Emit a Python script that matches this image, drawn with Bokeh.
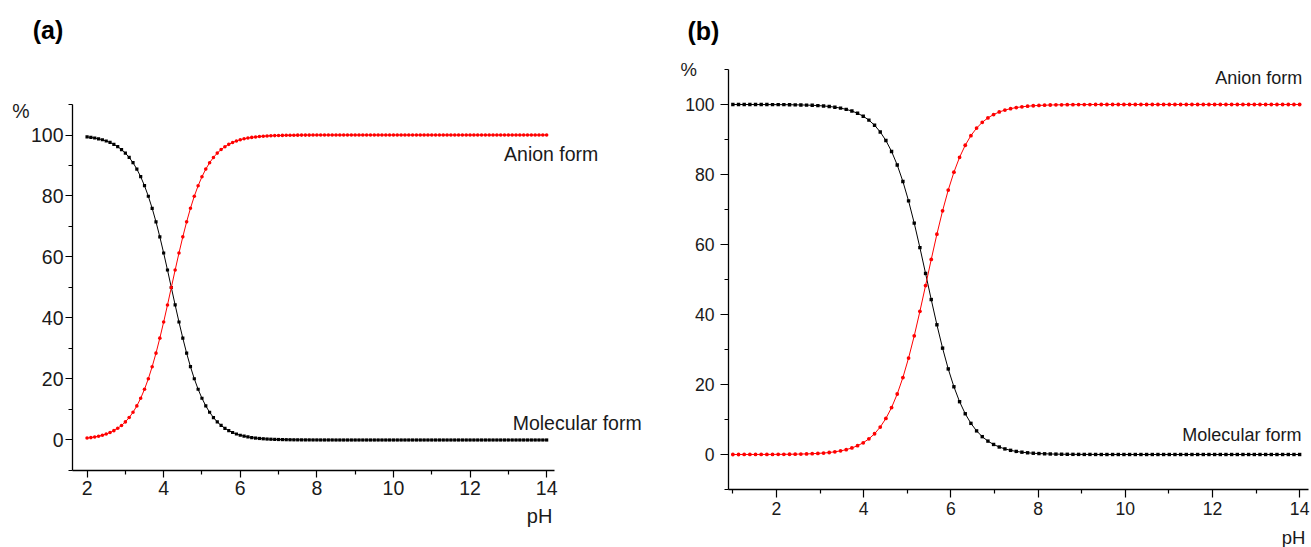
from bokeh.plotting import figure
from bokeh.models import Range1d, FixedTicker, Label
from bokeh.layouts import row
from bokeh.embed import file_html
from bokeh.resources import INLINE

# ---------------- data: panel (a) ----------------
ph_a = [
    2.0, 2.1, 2.2, 2.3, 2.4, 2.5, 2.6, 2.7, 2.8, 2.9,
    3.0, 3.1, 3.2, 3.3, 3.4, 3.5, 3.6, 3.7, 3.8, 3.9,
    4.0, 4.1, 4.2, 4.3, 4.4, 4.5, 4.6, 4.7, 4.8, 4.9,
    5.0, 5.1, 5.2, 5.3, 5.4, 5.5, 5.6, 5.7, 5.8, 5.9,
    6.0, 6.1, 6.2, 6.3, 6.4, 6.5, 6.6, 6.7, 6.8, 6.9,
    7.0, 7.1, 7.2, 7.3, 7.4, 7.5, 7.6, 7.7, 7.8, 7.9,
    8.0, 8.1, 8.2, 8.3, 8.4, 8.5, 8.6, 8.7, 8.8, 8.9,
    9.0, 9.1, 9.2, 9.3, 9.4, 9.5, 9.6, 9.7, 9.8, 9.9,
    10.0, 10.1, 10.2, 10.3, 10.4, 10.5, 10.6, 10.7, 10.8, 10.9,
    11.0, 11.1, 11.2, 11.3, 11.4, 11.5, 11.6, 11.7, 11.8, 11.9,
    12.0, 12.1, 12.2, 12.3, 12.4, 12.5, 12.6, 12.7, 12.8, 12.9,
    13.0, 13.1, 13.2, 13.3, 13.4, 13.5, 13.6, 13.7, 13.8, 13.9,
    14.0,
]
anion_a = [
    0.63, 0.79, 0.99, 1.24, 1.56, 1.96, 2.45, 3.07, 3.83, 4.77,
    5.93, 7.36, 9.09, 11.18, 13.68, 16.63, 20.08, 24.03, 28.47, 33.39,
    38.69, 44.27, 50.00, 55.73, 61.31, 66.61, 71.53, 75.97, 79.92, 83.37,
    86.32, 88.82, 90.91, 92.64, 94.07, 95.23, 96.17, 96.94, 97.55, 98.04,
    98.44, 98.76, 99.01, 99.21, 99.37, 99.50, 99.60, 99.69, 99.75, 99.80,
    99.84, 99.87, 99.90, 99.92, 99.94, 99.95, 99.96, 99.97, 99.97, 99.98,
    99.98, 99.99, 99.99, 99.99, 99.99, 100.0, 100.0, 100.0, 100.0, 100.0,
    100.0, 100.0, 100.0, 100.0, 100.0, 100.0, 100.0, 100.0, 100.0, 100.0,
    100.0, 100.0, 100.0, 100.0, 100.0, 100.0, 100.0, 100.0, 100.0, 100.0,
    100.0, 100.0, 100.0, 100.0, 100.0, 100.0, 100.0, 100.0, 100.0, 100.0,
    100.0, 100.0, 100.0, 100.0, 100.0, 100.0, 100.0, 100.0, 100.0, 100.0,
    100.0, 100.0, 100.0, 100.0, 100.0, 100.0, 100.0, 100.0, 100.0, 100.0,
    100.0,
]
molecular_a = [
    99.37, 99.21, 99.01, 98.76, 98.44, 98.04, 97.55, 96.93, 96.17, 95.23,
    94.07, 92.64, 90.91, 88.82, 86.32, 83.37, 79.92, 75.97, 71.53, 66.61,
    61.31, 55.73, 50.00, 44.27, 38.69, 33.39, 28.47, 24.03, 20.08, 16.63,
    13.68, 11.18, 9.09, 7.36, 5.93, 4.77, 3.83, 3.06, 2.45, 1.96,
    1.56, 1.24, 0.99, 0.79, 0.63, 0.50, 0.40, 0.31, 0.25, 0.20,
    0.16, 0.13, 0.10, 0.08, 0.06, 0.05, 0.04, 0.03, 0.03, 0.02,
    0.02, 0.01, 0.01, 0.01, 0.01, 0.0, 0.0, 0.0, 0.0, 0.0,
    0.0, 0.0, 0.0, 0.0, 0.0, 0.0, 0.0, 0.0, 0.0, 0.0,
    0.0, 0.0, 0.0, 0.0, 0.0, 0.0, 0.0, 0.0, 0.0, 0.0,
    0.0, 0.0, 0.0, 0.0, 0.0, 0.0, 0.0, 0.0, 0.0, 0.0,
    0.0, 0.0, 0.0, 0.0, 0.0, 0.0, 0.0, 0.0, 0.0, 0.0,
    0.0, 0.0, 0.0, 0.0, 0.0, 0.0, 0.0, 0.0, 0.0, 0.0,
    0.0,
]

# ---------------- data: panel (b) ----------------
ph_b = [
    1.00, 1.13, 1.26, 1.39, 1.52, 1.65, 1.78, 1.91, 2.04, 2.17,
    2.30, 2.43, 2.56, 2.69, 2.82, 2.95, 3.08, 3.21, 3.34, 3.47,
    3.60, 3.73, 3.86, 3.99, 4.12, 4.25, 4.38, 4.51, 4.64, 4.77,
    4.90, 5.03, 5.16, 5.29, 5.42, 5.55, 5.68, 5.81, 5.94, 6.07,
    6.20, 6.33, 6.46, 6.59, 6.72, 6.85, 6.98, 7.11, 7.24, 7.37,
    7.50, 7.63, 7.76, 7.89, 8.02, 8.15, 8.28, 8.41, 8.54, 8.67,
    8.80, 8.93, 9.06, 9.19, 9.32, 9.45, 9.58, 9.71, 9.84, 9.97,
    10.10, 10.23, 10.36, 10.49, 10.62, 10.75, 10.88, 11.01, 11.14, 11.27,
    11.40, 11.53, 11.66, 11.79, 11.92, 12.05, 12.18, 12.31, 12.44, 12.57,
    12.70, 12.83, 12.96, 13.09, 13.22, 13.35, 13.48, 13.61, 13.74, 13.87,
    14.00,
]
anion_b = [
    0.00, 0.00, 0.01, 0.01, 0.01, 0.02, 0.02, 0.03, 0.04, 0.05,
    0.07, 0.10, 0.13, 0.17, 0.23, 0.32, 0.42, 0.57, 0.77, 1.04,
    1.39, 1.87, 2.51, 3.35, 4.47, 5.93, 7.84, 10.30, 13.41, 17.28,
    21.99, 27.55, 33.90, 40.90, 48.27, 55.73, 62.94, 69.61, 75.55, 80.65,
    84.91, 88.36, 91.10, 93.25, 94.90, 96.17, 97.13, 97.86, 98.40, 98.81,
    99.12, 99.34, 99.51, 99.64, 99.73, 99.80, 99.85, 99.89, 99.92, 99.94,
    99.96, 99.97, 99.98, 99.98, 99.99, 100.0, 100.0, 100.0, 100.0, 100.0,
    100.0, 100.0, 100.0, 100.0, 100.0, 100.0, 100.0, 100.0, 100.0, 100.0,
    100.0, 100.0, 100.0, 100.0, 100.0, 100.0, 100.0, 100.0, 100.0, 100.0,
    100.0, 100.0, 100.0, 100.0, 100.0, 100.0, 100.0, 100.0, 100.0, 100.0,
    100.0,
]
molecular_b = [
    100.0, 100.0, 99.99, 99.99, 99.99, 99.98, 99.98, 99.97, 99.96, 99.95,
    99.93, 99.90, 99.87, 99.83, 99.77, 99.68, 99.58, 99.43, 99.23, 98.96,
    98.61, 98.13, 97.49, 96.65, 95.53, 94.07, 92.16, 89.70, 86.59, 82.72,
    78.01, 72.45, 66.10, 59.10, 51.73, 44.27, 37.06, 30.39, 24.45, 19.35,
    15.09, 11.64, 8.90, 6.75, 5.10, 3.83, 2.87, 2.14, 1.60, 1.19,
    0.88, 0.66, 0.49, 0.36, 0.27, 0.20, 0.15, 0.11, 0.08, 0.06,
    0.04, 0.03, 0.02, 0.02, 0.01, 0.0, 0.0, 0.0, 0.0, 0.0,
    0.0, 0.0, 0.0, 0.0, 0.0, 0.0, 0.0, 0.0, 0.0, 0.0,
    0.0, 0.0, 0.0, 0.0, 0.0, 0.0, 0.0, 0.0, 0.0, 0.0,
    0.0, 0.0, 0.0, 0.0, 0.0, 0.0, 0.0, 0.0, 0.0, 0.0,
    0.0,
]

y_major = [0, 20, 40, 60, 80, 100]
y_minor = [-10, 10, 30, 50, 70, 90, 110]
x_major = [2, 4, 6, 8, 10, 12, 14]
x_minor_a = [3, 5, 7, 9, 11, 13]
x_minor_b = [1, 3, 5, 7, 9, 11, 13]

FONT = "Liberation Sans"
TXT = "#1a1a1a"


def make_panel(ph, anion, molecular, view_x, view_y, axis_x, axis_y,
               x_minor, width, height, fs, tick_out, standoff, sq_size,
               dot_size, texts):
    p = figure(width=width, height=height, x_range=Range1d(*view_x),
               y_range=Range1d(*view_y), output_backend="svg",
               toolbar_location=None, min_border_left=0, min_border_right=0,
               min_border_top=0, min_border_bottom=0)
    p.outline_line_color = None
    p.grid.visible = False
    p.background_fill_color = "white"
    p.border_fill_color = "white"

    p.xaxis.ticker = FixedTicker(ticks=x_major, minor_ticks=x_minor)
    p.yaxis.ticker = FixedTicker(ticks=y_major, minor_ticks=y_minor)
    xa = p.xaxis[0]
    ya = p.yaxis[0]
    xa.bounds = axis_x
    xa.fixed_location = axis_y[0]
    ya.bounds = axis_y
    ya.fixed_location = axis_x[0]
    for ax in (xa, ya):
        ax.axis_line_width = 1.3
        ax.axis_line_color = "black"
        ax.major_tick_line_width = 1.2
        ax.minor_tick_line_width = 1.2
        ax.major_tick_line_color = "black"
        ax.minor_tick_line_color = "black"
        ax.major_tick_in = 0
        ax.major_tick_out = tick_out
        ax.minor_tick_in = 0
        ax.minor_tick_out = 4
        ax.major_label_text_font = FONT
        ax.major_label_text_font_size = fs
        ax.major_label_text_color = TXT
    ya.major_label_standoff = standoff
    xa.major_label_standoff = 4

    p.line(ph, molecular, line_color="black", line_width=1.0)
    p.scatter(ph, molecular, marker="square", size=sq_size,
              fill_color="black", line_color=None)
    p.line(ph, anion, line_color="#ff0000", line_width=1.0)
    p.scatter(ph, anion, marker="circle", size=dot_size,
              fill_color="#ff0000", line_color=None)

    for (t, x, y, align, size, style) in texts:
        p.add_layout(Label(x=x, y=y, text=t, text_align=align,
                           text_baseline="middle", text_font=FONT,
                           text_font_size=size, text_font_style=style,
                           text_color=TXT if style == "normal" else "black"))
    return p


texts_a = [
    ("(a)", 0.58, 134.3, "left", "25px", "bold"),
    ("%", 0.05, 108.0, "left", "19.5px", "normal"),
    ("pH", 14.15, -24.8, "right", "20px", "normal"),
    ("Anion form", 15.35, 93.8, "right", "19.5px", "normal"),
    ("Molecular form", 16.48, 5.6, "right", "19.5px", "normal"),
]
texts_b = [
    ("(b)", -0.04, 121.1, "left", "25px", "bold"),
    ("%", -0.20, 110.0, "left", "18.5px", "normal"),
    ("pH", 14.13, -23.7, "right", "18.5px", "normal"),
    ("Anion form", 14.06, 107.6, "right", "18px", "normal"),
    ("Molecular form", 14.04, 5.6, "right", "18px", "normal"),
]

p1 = make_panel(ph_a, anion_a, molecular_a,
                (-0.26, 16.607), (-35.25, 144.10),
                (1.62, 14.2), (-10, 110), x_minor_a,
                646, 547, "19.5px", 7, 2, 3.2, 3.6, texts_a)
p2 = make_panel(ph_b, anion_b, molecular_b,
                (-0.981, 14.272), (-26.57, 129.71),
                (0.9, 14.2), (-10, 110), x_minor_b,
                665, 547, "17.6px", 8, 6, 3.4, 3.8, texts_b)

layout = row(p1, p2)
open("out.html", "w").write(file_html(layout, INLINE))
